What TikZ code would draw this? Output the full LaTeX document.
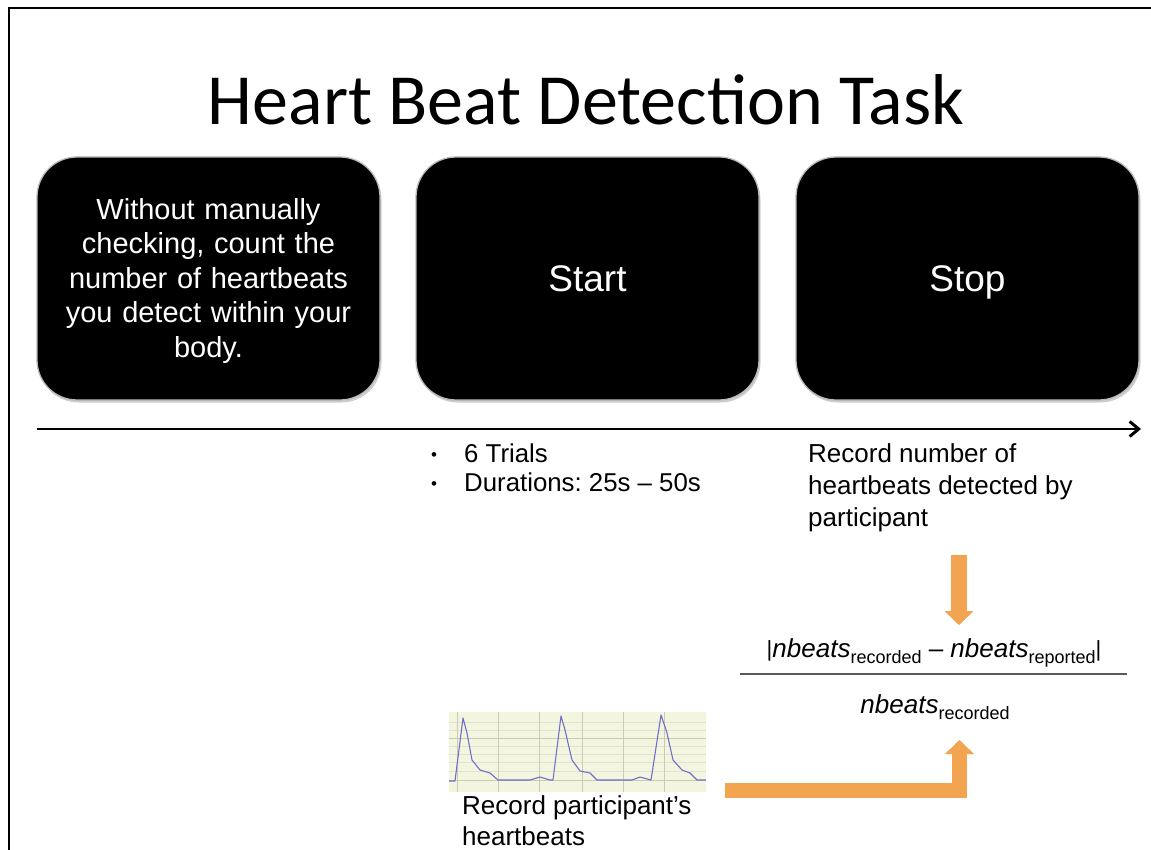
\documentclass[tikz,border=0pt]{standalone}
\usepackage{fontspec}
\setmainfont{Liberation Sans}
\newfontfamily\titlefont{Carlito}
\usetikzlibrary{arrows.meta,shadows}
\definecolor{accent}{HTML}{F2A451}
\definecolor{ecgbg}{HTML}{F4F5DF}
\definecolor{ecggrid}{HTML}{C9CBB4}
\definecolor{ecgline}{HTML}{6F70C9}
\frenchspacing
\tikzset{
  stepbox/.style={rounded corners=40pt, fill=black, draw=gray!55, line width=1.3pt,
    minimum width=343pt, minimum height=243pt, text=white, inner sep=0pt,
    drop shadow={shadow xshift=1.5pt, shadow yshift=-2.5pt, fill=gray!70, opacity=.55}},
  bigword/.style={font=\fontsize{37}{44}\selectfont, text height=26.5pt, text depth=0pt},
  boxtext/.style={font=\fontsize{29}{34.5}\selectfont, align=center},
  notetext/.style={font=\fontsize{26}{32}\selectfont, align=left, inner sep=0pt},
  flow/.style={accent, line width=15.5pt, -{Triangle[length=14pt,width=28pt]}},
  flowshadow/.style={black, opacity=.18, line width=15.5pt, -{Triangle[length=14pt,width=28pt]}}
}
\newcommand{\lowsub}[1]{\raisebox{-6pt}{\fontsize{18}{20}\selectfont #1}}
\newcommand{\dotmark}{\makebox[33pt][l]{\raisebox{2pt}{\fontsize{17}{17}\selectfont\textbullet}}}
\begin{document}
\begin{tikzpicture}[x=1pt,y=-1pt]
\useasboundingbox (0,0) rectangle (1151,850);

% slide frame (only top and left edges are in view)
\coordinate (fbl) at (9,851);
\coordinate (ftl) at (9,8);
\coordinate (ftr) at (1152,8);
\draw[line width=2pt] (fbl) -- (ftl) -- (ftr);

% title
\node[anchor=base, font=\titlefont\fontsize{72}{84}\selectfont, inner sep=0pt] (title) at (586,125) {Heart Beat Detection Task};

% the three screens
\node[stepbox] (instr) at (208.5,278.5) {};
\node[boxtext, text=white, text width=320pt] (instrtext) at (208.5,281) {Without manually\\checking, count the\\number of heartbeats\\you detect within your\\body.};
\node[stepbox, bigword] (start) at (587.5,278.5) {Start};
\node[stepbox, bigword] (stop) at (967.5,278.5) {Stop};

% time line
\coordinate (t0) at (37,429);
\coordinate (t1) at (1141,429);
\draw[line width=2.8pt, -{Straight Barb[length=9pt,width=15pt,line width=3pt]}] (t0) -- (t1);

% trial notes
\node[anchor=base west, inner sep=0pt, align=left, font=\fontsize{25.8}{29}\selectfont] (trials) at (431,491)
  {\dotmark 6 Trials\\\dotmark Durations: 25s – 50s};

\node[notetext, anchor=base west] (reported) at (808,526) {Record number of\\heartbeats detected by\\participant};

% formula
\node[anchor=base, inner sep=0pt, font=\fontsize{26}{30}\selectfont] (num) at (934,657)
  {\raisebox{1pt}{\fontsize{22}{24}\selectfont|}\textit{nbeats}\lowsub{recorded} – \textit{nbeats}\lowsub{reported}\raisebox{1pt}{\fontsize{22}{24}\selectfont|}};
\coordinate (fracl) at (740,674);
\coordinate (fracr) at (1127,674);
\draw[line width=2pt, black!65] (fracl) -- (fracr);
\node[anchor=base, inner sep=0pt, font=\fontsize{26}{30}\selectfont] (den) at (935,713)
  {\textit{nbeats}\lowsub{recorded}};

% recorded trace
\fill[ecgbg] (449,712) rectangle (706,792);
\foreach \gy in {722,730,746,754,762,771}
  \draw[ecggrid!55, line width=0.6pt] (449,\gy) -- (706,\gy);
\foreach \gy in {738,780}
  \draw[ecggrid, line width=1pt] (449,\gy) -- (706,\gy);
\foreach \gx in {457,498,539,582,623,664}
  \draw[ecggrid, line width=0.9pt] (\gx,712) -- (\gx,792);
\draw[ecgline, line width=1.1pt, line join=round]
  (449,781) -- (455,781) -- (463,718) -- (467,733) -- (472,760) -- (480,770) -- (490,773) -- (498,780)
  -- (530,780) -- (540,777) -- (550,780) -- (553,780) -- (561,716) -- (565,730) -- (572,760) -- (580,771)
  -- (590,773) -- (597,780) -- (632,780) -- (640,777) -- (651,780) -- (661,715) -- (667,733) -- (673,760)
  -- (682,770) -- (690,773) -- (697,780) -- (706,780);
\node[notetext, anchor=base west, font=\fontsize{26}{30.5}\selectfont] (measured) at (462,845) {Record participant’s\\heartbeats};

% orange flow arrows
\coordinate (downtop) at (959,555);
\coordinate (downtip) at (959,625);
\coordinate (bendstart) at (725,790.5);
\coordinate (uptip) at (959.5,740);
\draw[flowshadow, shift={(1.5,2)}] (downtop) -- (downtip);
\draw[flowshadow, shift={(1.5,2)}, line join=miter] (bendstart) -| (uptip);
\draw[flow] (downtop) -- (downtip);
\draw[flow, line join=miter] (bendstart) -| (uptip);
\end{tikzpicture}
\end{document}
